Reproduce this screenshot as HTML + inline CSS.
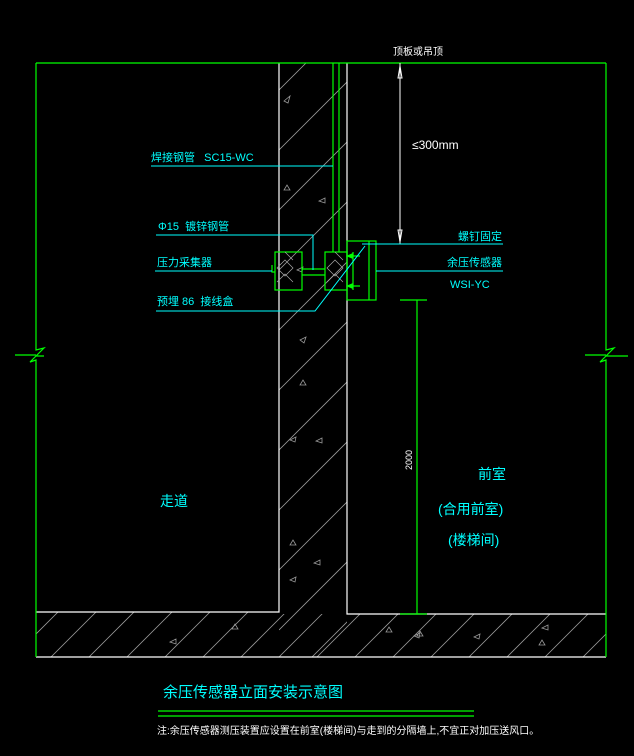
<!DOCTYPE html>
<html><head><meta charset="utf-8"><style>
body{margin:0;background:#000;}
svg{display:block;}
text{font-family:"Liberation Sans","Noto Sans CJK SC",sans-serif;}
</style></head><body>
<svg width="634" height="756" viewBox="0 0 634 756" xmlns="http://www.w3.org/2000/svg">
<defs>
<clipPath id="wall"><rect x="279" y="63" width="68" height="594"/></clipPath>
<clipPath id="floor"><path d="M36 612 H279 V614 H347 V614 H606 V657 H36 Z"/></clipPath>
</defs>
<rect width="634" height="756" fill="#000"/>
<g stroke="#9a9a9a" stroke-width="0.8" clip-path="url(#wall)">
<path d="M279 90 L379 -10 M279 150 L379 50 M279 210 L379 110 M279 270 L379 170 M279 330 L379 230 M279 390 L379 290 M279 450 L379 350 M279 510 L379 410 M279 570 L379 470 M279 630 L379 530 M279 690 L379 590"/>
</g>
<g stroke="#9a9a9a" stroke-width="0.8" clip-path="url(#floor)">
<path d="M0 670 L80 590 M38 670 L118 590 M76 670 L156 590 M114 670 L194 590 M152 670 L232 590 M190 670 L270 590 M228 670 L308 590 M266 670 L346 590 M304 670 L384 590 M342 670 L422 590 M380 670 L460 590 M418 670 L498 590 M456 670 L536 590 M494 670 L574 590 M532 670 L612 590 M570 670 L650 590"/>
</g>
<g stroke="#9a9a9a" fill="none" stroke-width="0.8">
<path d="M284 101 l6 -5 l-2 7 z M284 190 l6 0 l-3 -5 z M297 270 l6 -3 l-1 5 z M325 198 l-6 3 l6 2 z M300 340 l6 -3 l-2 6z M300 385 l6 0 l-3 -5z M290 440 l6 -3 l-1 5z M322 438 l-6 3 l6 2z M290 545 l6 0 l-3 -5z M320 560 l-6 3 l6 2z M290 580 l6 -3 l-1 5z M170 642 l6 -3 l0 5z M232 629 l6 0 l-3 -5z M386 632 l6 0 l-3 -5z M417 636 l6 0 l-3 -5z M414 636 l6 -3 l-1 5z M474 637 l6 -3 l-1 5z M542 628 l6 -3 l0 5z M539 645 l6 0 l-3 -5z"/>
</g>
<g stroke="#fff" stroke-width="1.2" fill="none">
<path d="M279 63 V612 H36"/>
<path d="M347 63 V614 H606"/>
<path d="M36 657 H606"/>
</g>
<g stroke="#0f0" stroke-width="1.2" fill="none">
<path d="M36 63 H606"/>
<path d="M36 63 V350 L44 348 L30 362 L36 360 V657"/>
<path d="M15 355 H36 M36 356 H44"/>
<path d="M606 63 V350 L614 348 L600 362 L606 360 V657"/>
<path d="M585 355 H606 M606 356 H628"/>
<path d="M333 63 V252 M339 63 V252"/>
<rect x="275" y="252" width="27" height="38"/>
<rect x="325" y="252" width="22" height="38"/>
<path d="M302 269 H325 M302 275 H325"/>
<path d="M272 265 V272 H275"/>
<rect x="347" y="241" width="29" height="59"/>
<path d="M369 241 V300 M353 252 V290"/>
<path d="M347 256 H360 M347 286 H360"/>
<path d="M400 300 H427 M417 300 V614 M400 614 H427"/>
<path d="M158 711 H474 M158 716 H474"/>
</g>
<g stroke="#aaa" stroke-width="0.7" fill="none">
<path d="M277 268 l8 -8 l8 8 l-8 8z M277 282 l8 -8 l8 8 M285 252 l8 8 M327 268 l8 -8 l8 8 l-8 8z M327 282 l8 -8 l8 8 M335 252 l8 8"/>
</g>
<g fill="#0f0"><path d="M346 256 l7 -3 v6z M346 286 l7 -3 v6z"/></g>
<g stroke="#fff" stroke-width="1" fill="none">
<path d="M400 63 V244"/>
<path d="M398 78 L400 66 L402 78 Z M398 230 L400 242 L402 230 Z"/>
</g>
<g stroke="#0ff" stroke-width="1" fill="none">
<path d="M151 166 H333"/>
<path d="M156 235 H313 V270"/>
<path d="M155 271 H272"/>
<path d="M156 311 H315 L365 246"/>
<path d="M362 244 H503"/>
<path d="M376 271 H503"/>
</g>
<g fill="#0ff" font-size="11">
<text x="151" y="161">焊接钢管&#160;&#160;&#160;SC15-WC</text>
<text x="158" y="230">Φ15&#160;&#160;镀锌钢管</text>
<text x="157" y="266">压力采集器</text>
<text x="157" y="305">预埋 86&#160;&#160;接线盒</text>
<text x="458" y="240">螺钉固定</text>
<text x="447" y="266">余压传感器</text>
<text x="450" y="288">WSI-YC</text>
<text x="160" y="506" font-size="14">走道</text>
<text x="478" y="479" font-size="14">前室</text>
<text x="438" y="514" font-size="14">(合用前室)</text>
<text x="448" y="545" font-size="14">(楼梯间)</text>
<text x="163" y="697" font-size="15">余压传感器立面安装示意图</text>
</g>
<g fill="#fff">
<text x="393" y="55" font-size="10">顶板或吊顶</text>
<text x="412" y="149" font-size="12">≤300mm</text>
<text x="412" y="470" font-size="9" transform="rotate(-90 412 470)">2000</text>
<text x="157" y="734" font-size="10">注:余压传感器测压装置应设置在前室(楼梯间)与走到的分隔墙上,不宜正对加压送风口。</text>
</g>
</svg>
</body></html>
